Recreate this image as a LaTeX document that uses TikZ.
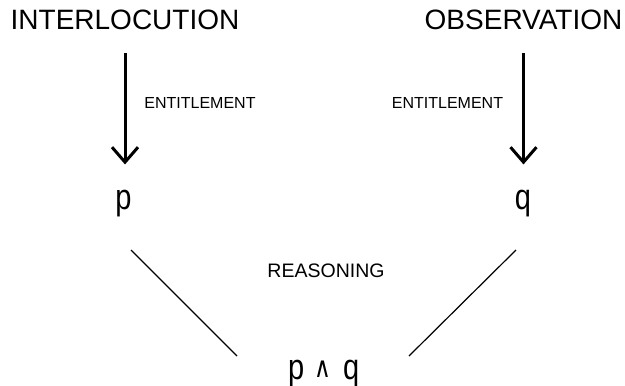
\documentclass[tikz,border=0pt]{standalone}
\usepackage{fontspec}
\setmainfont{Liberation Sans}
\newfontfamily\djv{DejaVu Sans}
\usetikzlibrary{arrows.meta}
\begin{document}
\begin{tikzpicture}[x=1pt,y=-1pt,
  title/.style={font=\fontsize{28}{30}\selectfont, inner sep=0pt, anchor=base},
  smalllabel/.style={font=\fontsize{16}{18}\selectfont, inner sep=0pt, anchor=base},
  reasonlabel/.style={font=\fontsize{19.5}{22}\selectfont, inner sep=0pt, anchor=base},
  varnode/.style={font=\fontsize{29}{32}\selectfont, inner sep=0pt, anchor=base},
  entarrow/.style={line width=3pt, -{Straight Barb[length=15pt,width=26pt]}},
  thinline/.style={line width=1.2pt}
]
\useasboundingbox (0,0) rectangle (625,386);
\fill[white] (0,0) rectangle (625,386);

\node[title] (il) at (125,29) {INTERLOCUTION};
\node[title] (ob) at (523.5,29) {OBSERVATION};

\node[varnode] (p) at (123.5,209.5) {\scalebox{1}[1.24]{p}};
\node[varnode] (q) at (523,209.5) {\scalebox{1}[1.24]{q}};

\node[smalllabel] (e1) at (200,108) {ENTITLEMENT};
\node[smalllabel] (e2) at (447.5,108) {ENTITLEMENT};

\draw[entarrow, shorten <=24pt, shorten >=25.5pt] (il.south) -- (il.south |- p.north);
\draw[entarrow, shorten <=24pt, shorten >=25.5pt] (ob.south) -- (ob.south |- q.north);

\node[reasonlabel] (rs) at (326,277) {REASONING};

\node[varnode, anchor=base west] (pq) at (288,379.7) {\scalebox{1}[1.24]{p\hspace{10pt}{\djv\fontsize{23}{23}\selectfont\raisebox{1.5pt}{∧}}\hspace{12pt}q}};

\coordinate (l1) at (131,250);
\coordinate (l2) at (237,356);
\coordinate (r1) at (516,250);
\coordinate (r2) at (409,356);
\draw[thinline] (l1) -- (l2);
\draw[thinline] (r1) -- (r2);
\end{tikzpicture}
\end{document}
